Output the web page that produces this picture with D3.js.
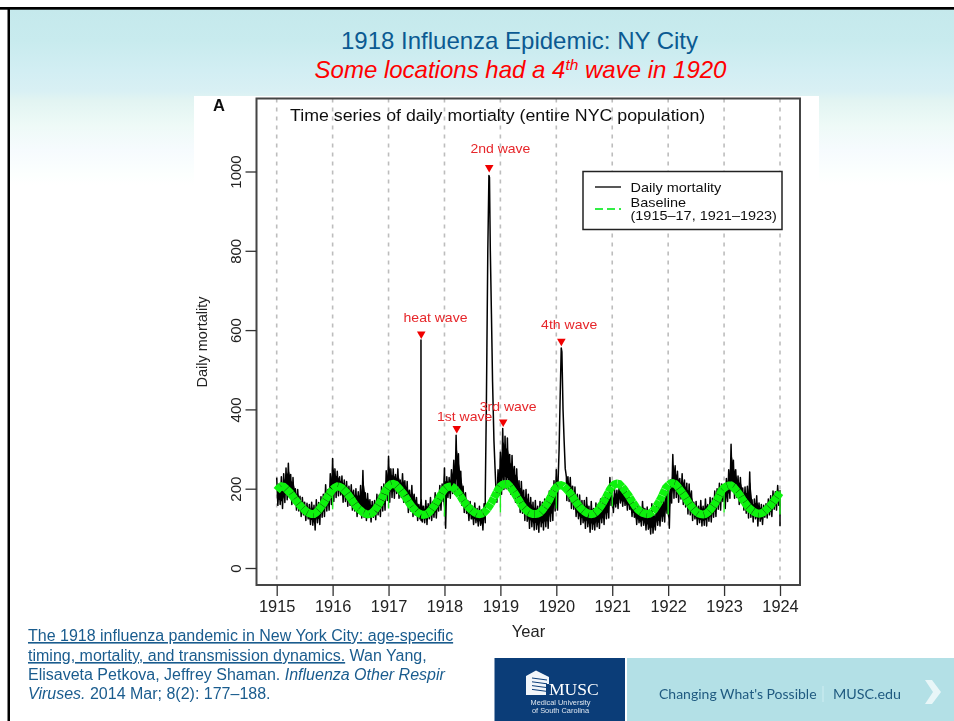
<!DOCTYPE html>
<html><head><meta charset="utf-8">
<script src="https://cdn.jsdelivr.net/npm/d3@7"></script>
<style>
html,body{margin:0;padding:0;background:#fff;overflow:hidden}
svg{display:block}
text{font-family:"Liberation Sans",Arial,sans-serif}
</style></head><body>
<svg id="c" width="954" height="721"></svg>
<script>
// ---- data ----
const years = d3.range(1915, 1925);
const yTicks = [0, 200, 400, 600, 800, 1000];
// upper edge of the daily band, 24 readings per year (null = replaced by the epidemic spike readings below)
const mortalityHigh = [
 228,212,230,238,252,264,236,228,200,198,181,178,166,163,160,166,158,172,165,180,186,210,198,238,
 276,250,244,230,232,222,218,206,210,196,200,192,208,246,190,188,172,168,170,186,184,205,212,245,
 282,250,250,236,250,222,238,220,218,196,208,186,178,160,174,156,170,162,178,168,190,182,208,212,
 252,230,228,248,272,335,288,244,206,190,170,168,156,164,150,156,146,162,null,null,null,null,212,248,
 292,352,332,328,286,284,256,250,220,218,196,198,186,178,166,170,156,168,166,174,176,194,202,220,
 248,null,null,null,244,230,228,206,204,186,184,170,170,178,156,168,150,164,160,174,172,190,186,228,
 182,198,196,214,202,204,200,194,176,178,160,158,146,168,150,154,136,162,132,164,160,174,176,194,
 208,222,286,258,244,226,238,222,214,212,194,166,168,156,170,156,174,160,178,176,194,200,214,212,
 208,226,248,312,272,248,232,228,202,204,206,242,172,174,182,164,160,158,162,174,182,194,192,208];
// lower edge of the daily band, same readings
const mortalityLow = [
 158,160,150,165,172,178,160,164,146,144,130,134,120,124,110,108,96,114,110,128,130,144,146,160,
 168,178,182,184,166,168,156,158,146,144,130,138,126,128,120,130,116,128,122,134,130,144,146,170,
 166,178,176,188,176,178,166,164,140,144,130,134,120,124,116,114,110,124,120,128,126,144,146,168,
 100,178,176,188,186,194,170,158,140,138,120,124,110,114,106,108,96,114,null,null,null,null,166,184,
 186,198,200,198,186,184,166,164,140,138,120,118,100,104,96,98,90,104,96,104,100,118,120,144,
 146,null,null,null,170,168,150,148,130,124,110,114,100,104,90,98,96,104,100,114,110,124,126,158,
 140,154,150,164,156,158,146,148,130,128,110,114,106,108,96,98,86,88,96,108,106,118,116,138,
 100,164,176,178,166,174,160,154,136,134,120,124,110,114,106,108,106,118,116,128,130,148,146,168,
 150,168,176,194,176,178,160,164,146,138,126,128,116,124,106,118,110,128,126,134,130,148,146,158];
const spikeYears  = [1917.578,1917.58,1917.582, 1918.73,1918.75,1918.775,1918.795,1918.805,1918.82,1918.84,1918.86,1918.885,1918.905,
                     1920.03,1920.05,1920.07,1920.088,1920.10,1920.12,1920.14,1920.16,1920.18, 1924,1924.0005];
const spikeValues = [170,575,120, 190,420,800,990,985,800,640,470,320,250,
                     210,300,440,555,545,400,320,250,230, 195,105];
// seasonal baseline, 24 readings per year
const baselineValues = [
 195,202,206,205,200,194,188,180,172,165,158,152,146,141,138,136,136,140,146,154,162,172,182,190,
 198,203,206,205,202,196,190,182,174,165,157,150,145,140,137,135,136,139,145,153,162,174,188,198,
 206,211,212,210,204,197,190,182,172,163,155,148,142,138,135,134,135,138,144,152,160,170,180,190,
 198,203,205,206,202,195,188,180,170,162,155,149,144,140,137,136,137,140,146,154,163,174,186,198,
 206,210,212,212,206,198,190,180,170,160,152,146,141,138,136,136,137,140,146,154,162,172,184,196,
 204,208,209,207,201,195,188,180,170,162,154,148,143,139,137,136,137,141,147,155,164,175,186,198,
 206,211,213,212,206,199,191,183,173,164,155,148,143,139,137,136,137,141,147,156,166,177,190,202,
 208,213,214,212,206,198,190,182,172,163,155,148,142,138,136,135,136,140,146,154,162,172,184,196,
 202,206,208,208,204,197,190,182,172,164,156,150,145,141,138,137,138,141,146,152,158,166,174,182];
const baselineEnd = 190;
const dipYears  = [1916,1917,1918,1919,1920,1921,1922,1923,1924];
const dipValues = [148,150,130,140,150,155,135,140,135];
const waveLabels = ["heat wave","2nd wave","1st wave","3rd wave","4th wave"];
const waveYears  = [1917.585,1918.80,1918.22,1919.05,1920.09];
const waveValues = [590,1010,352,368,572];
const labelYears = [1917.84,1919.0,1918.36,1919.14,1920.23];
const labelValues = [620,1047,371,396,603];
const legendLabels = ["Daily mortality","Baseline","(1915–17, 1921–1923)"];
const citation = ["The 1918 influenza pandemic in New York City: age-specific","timing, mortality, and transmission dynamics."];

// ---- layout ----
const svg = d3.select("#c");
const x = d3.scaleLinear().domain([1915,1924]).range([276.7,780]);
const y = d3.scaleLinear().domain([0,1000]).range([568,171.5]);
const box = {l:256.5,r:800,t:98.5,b:585};

// slide background
const defs = svg.append("defs");
const grad = defs.append("linearGradient").attr("id","bg").attr("x1",0).attr("x2",0).attr("y1",0).attr("y2",1);
[[0,"#c5e9ec"],[.18,"#c8ebee"],[.35,"#d2eef3"],[.47,"#d9f0f4"],[.52,"#e2f4f2"],[.66,"#eefaf7"],[.8,"#f6fbfe"],[.94,"#fcfffe"],[1,"#ffffff"]]
  .forEach(s=>grad.append("stop").attr("offset",s[0]).attr("stop-color",s[1]));
defs.append("filter").attr("id","soft").append("feGaussianBlur").attr("stdDeviation",0.45);
svg.append("rect").attr("width",954).attr("height",721).attr("fill","#fff");
svg.append("rect").attr("x",8).attr("y",9).attr("width",946).attr("height",176).attr("fill","url(#bg)");
svg.append("rect").attr("x",194).attr("y",96).attr("width",625).attr("height",100).attr("fill","#fff");
svg.append("rect").attr("x",0).attr("y",7).attr("width",954).attr("height",2.7).attr("fill","#000");
svg.append("rect").attr("x",7.5).attr("y",7).attr("width",2.5).attr("height",714).attr("fill","#000");

// titles
svg.append("text").attr("x",519.5).attr("y",49).attr("text-anchor","middle").attr("font-size",24).attr("fill","#0b5a92").text("1918 Influenza Epidemic: NY City");
const t2 = svg.append("text").attr("x",520.5).attr("y",78).attr("text-anchor","middle").attr("font-size",24).attr("font-style","italic").attr("fill","#ff0000");
t2.append("tspan").text("Some locations had a 4");
t2.append("tspan").attr("dy",-8).attr("font-size",15.5).text("th");
t2.append("tspan").attr("dy",8).text(" wave in 1920");

const g = svg.append("g").attr("filter","url(#soft)");

// grid
g.append("g").selectAll("line").data(years).join("line")
  .attr("x1",d=>x(d)).attr("x2",d=>x(d)).attr("y1",box.t).attr("y2",box.b)
  .attr("stroke","#bdbdbd").attr("stroke-width",1.6).attr("stroke-dasharray","4 5");

// daily mortality: solid core of the band, then the day-to-day line
const core = d3.area().defined((d,i)=>mortalityHigh[i]!==null)
  .x((d,i)=>x(1915+i/24+1/96))
  .y0((d,i)=>y(mortalityLow[i]+(d-mortalityLow[i])*0.22))
  .y1((d,i)=>y(d-(d-mortalityLow[i])*0.22));
g.append("path").datum(mortalityHigh).attr("d",core).attr("fill","#000");
const daily = [];
mortalityHigh.forEach((v,i)=>{
  const t = 1915 + i/24;
  if (v!==null) daily.push([t,v]);
  if (mortalityLow[i]!==null) daily.push([t+1/48,mortalityLow[i]]);
});
spikeYears.forEach((t,i)=>daily.push([t,spikeValues[i]]));
daily.sort((a,b)=>a[0]-b[0]);
const line = d3.line().x(d=>x(d[0])).y(d=>y(d[1]));
g.append("path").datum(daily).attr("d",line).attr("fill","none").attr("stroke","#000").attr("stroke-width",1.5).attr("stroke-linejoin","round");

// baseline
const base = baselineValues.map((v,i)=>[1915+i/24,v]).concat([[1924,baselineEnd]]);
g.append("g").selectAll("line").data(dipYears).join("line")
  .attr("x1",d=>x(d)).attr("x2",d=>x(d)).attr("y1",d=>y(195)).attr("y2",(d,i)=>y(dipValues[i]))
  .attr("stroke","#22ee22").attr("stroke-width",1.4);
g.append("path").datum(base).attr("d",line).attr("fill","none").attr("stroke","#10f210").attr("stroke-width",8).attr("stroke-dasharray","6 0.3");

// box and axes
g.append("rect").attr("x",box.l).attr("y",box.t).attr("width",box.r-box.l).attr("height",box.b-box.t).attr("fill","none").attr("stroke","#444").attr("stroke-width",2);
const ax = g.append("g").attr("transform",`translate(0,${box.b})`)
  .call(d3.axisBottom(x).tickValues(years).tickFormat(d3.format("d")).tickSizeOuter(0).tickSize(11).tickPadding(4));
ax.select(".domain").remove();
ax.selectAll("line").attr("stroke","#333").attr("stroke-width",1.3);
ax.selectAll("text").attr("font-size",16.4).attr("fill","#222").attr("font-family","Liberation Sans");
const ay = g.append("g").attr("transform",`translate(${box.l},0)`)
  .call(d3.axisLeft(y).tickValues(yTicks).tickFormat(d3.format("d")).tickSizeOuter(0).tickSize(11));
ay.select(".domain").remove();
ay.selectAll("line").attr("stroke","#333").attr("stroke-width",1.3);
ay.selectAll("text").attr("font-size",15).attr("fill","#222").attr("font-family","Liberation Sans")
  .attr("text-anchor","middle").attr("x",0).attr("y",0).attr("dy",0)
  .attr("transform","translate(-16,0) rotate(-90)");

// plot texts (the source picture is stretched sideways)
g.append("text").attr("x",213).attr("y",110.5).attr("font-size",16.5).attr("font-weight","bold").attr("fill","#111").text("A");
g.append("text").attr("transform","translate(290,121) scale(1.14,1)").attr("font-size",15.6).attr("fill","#111").text("Time series of daily mortialty (entire NYC population)");
g.append("text").attr("x",528.5).attr("y",637).attr("text-anchor","middle").attr("font-size",16.5).attr("fill","#222").text("Year");
g.append("text").attr("transform","translate(207,342) rotate(-90)").attr("text-anchor","middle").attr("font-size",14.5).attr("fill","#222").text("Daily mortality");

// wave annotations
const tri = d3.symbol().type(d3.symbolTriangle).size(32);
g.append("g").selectAll("path").data(waveLabels).join("path")
  .attr("d",tri).attr("fill","#f00000")
  .attr("transform",(d,i)=>`translate(${x(waveYears[i])},${y(waveValues[i])}) rotate(180)`);
g.append("g").selectAll("text").data(waveLabels).join("text")
  .attr("transform",(d,i)=>`translate(${x(labelYears[i])},${y(labelValues[i])}) scale(1.08,1)`)
  .attr("text-anchor","middle").attr("font-size",13).attr("fill","#e6262a").text(d=>d);

// legend
const lg = g.append("g");
lg.append("rect").attr("x",583).attr("y",171.5).attr("width",199).attr("height",58).attr("fill","#fff").attr("stroke","#222").attr("stroke-width",1.5);
lg.append("line").attr("x1",595).attr("x2",621).attr("y1",187).attr("y2",187).attr("stroke","#111").attr("stroke-width",1.4);
lg.append("line").attr("x1",595).attr("x2",621).attr("y1",209).attr("y2",209).attr("stroke","#33ee44").attr("stroke-width",1.8).attr("stroke-dasharray","8 4");
lg.selectAll("text").data(legendLabels).join("text")
  .attr("transform",(d,i)=>`translate(630.5,${[192,207,220][i]}) scale(1.114,1)`)
  .attr("font-size",13).attr("fill","#111").text(d=>d);

// citation
const cite = svg.append("g").attr("font-size",16).attr("fill","#1a5c8e");
cite.append("text").attr("x",28).attr("y",641).attr("text-decoration","underline").text(citation[0]);
const c2 = cite.append("text").attr("x",28).attr("y",661);
c2.append("tspan").attr("text-decoration","underline").text(citation[1]);
c2.append("tspan").text(" Wan Yang,");
const c3 = cite.append("text").attr("x",28).attr("y",680);
c3.append("tspan").text("Elisaveta Petkova, Jeffrey Shaman. ");
c3.append("tspan").attr("font-style","italic").text("Influenza Other Respir");
const c4 = cite.append("text").attr("x",28).attr("y",699);
c4.append("tspan").attr("font-style","italic").text("Viruses.");
c4.append("tspan").text(" 2014 Mar; 8(2): 177–188.");

// footer
svg.append("rect").attr("x",494.5).attr("y",658).attr("width",130.5).attr("height",63).attr("fill","#0b3d78");
svg.append("rect").attr("x",627).attr("y",658).attr("width",327).attr("height",63).attr("fill","#b3e0e6");
svg.append("path").attr("d","M526,676 L536,670.5 L549,677 L549,684 L546,684 L546,695 L526,695 Z").attr("fill","#f2f6fa");
d3.range(4).forEach(i=>svg.append("line").attr("x1",532).attr("x2",547).attr("y1",678+i*3.8).attr("y2",680+i*3.8).attr("stroke","#0b3d78").attr("stroke-width",1));
svg.append("text").attr("x",549).attr("y",695).attr("font-size",17.5).attr("fill","#fff").style("font-family","Liberation Serif").text("MUSC");
svg.append("text").attr("x",560.5).attr("y",705).attr("text-anchor","middle").attr("font-size",7.4).attr("fill","#dfe7f0").text("Medical University");
svg.append("text").attr("x",560.5).attr("y",713).attr("text-anchor","middle").attr("font-size",7.4).attr("fill","#dfe7f0").text("of South Carolina");
svg.append("text").attr("x",659).attr("y",699).attr("font-size",14).style("font-family","Lato").attr("fill","#1f5a80").text("Changing What's Possible");
svg.append("line").attr("x1",823).attr("x2",823).attr("y1",686).attr("y2",702).attr("stroke","#cfeef2").attr("stroke-width",1);
svg.append("text").attr("x",833).attr("y",699).attr("font-size",14.3).style("font-family","Lato").attr("fill","#1f5a80").text("MUSC.edu");
svg.append("path").attr("d","M925,680 L932,680 L941,692 L932,704 L925,704 L933,692 Z").attr("fill","#e8f6f8");
</script>
</body></html>
